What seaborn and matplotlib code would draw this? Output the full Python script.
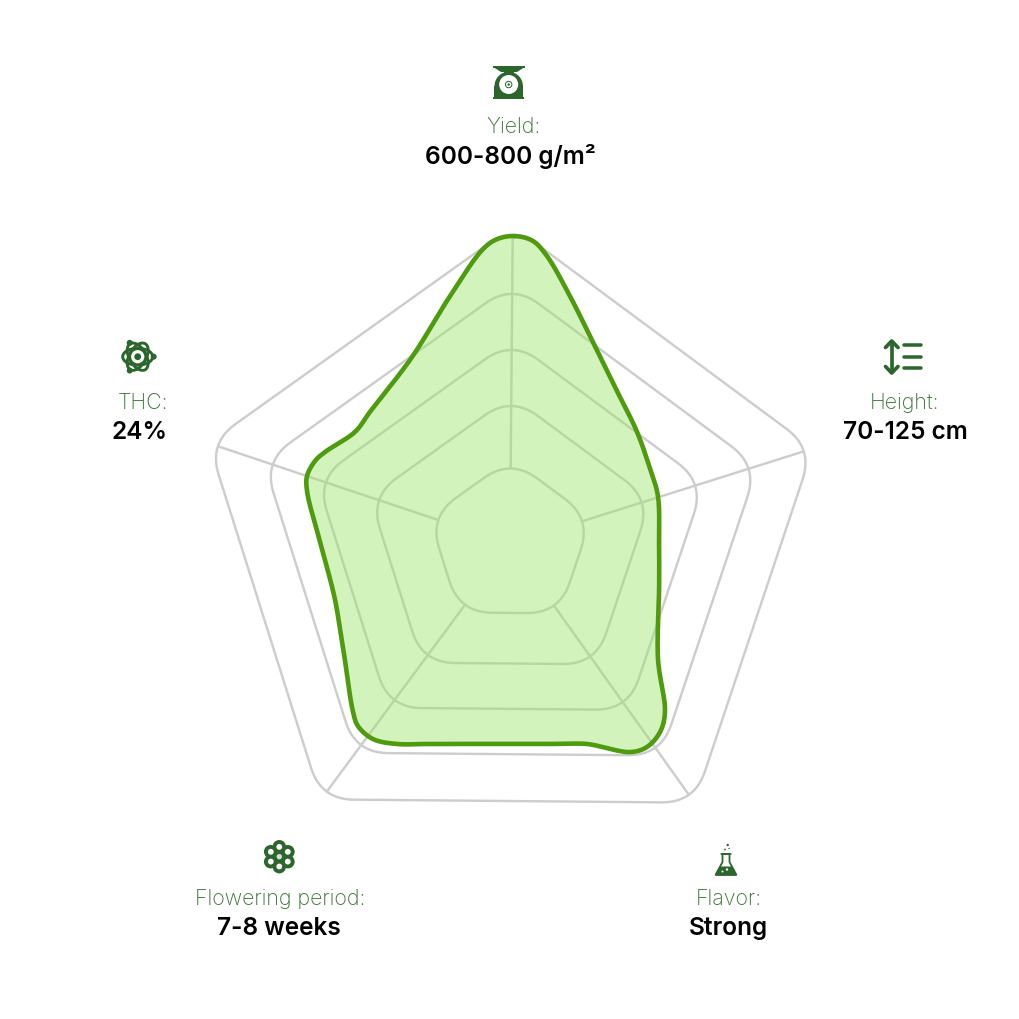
import numpy as np
import pandas as pd
import matplotlib
matplotlib.use("Agg")
import matplotlib.pyplot as plt
from matplotlib.patches import Circle, Ellipse, Polygon, Rectangle, Wedge
import seaborn as sns

# ---- data ----
categories = ["Yield:", "Height:", "Flavor:", "Flowering period:", "THC:"]
value_labels = ["600-800 g/m²", "70-125 cm", "Strong", "7-8 weeks", "24%"]
grid_levels = [0.245, 0.448, 0.63, 0.812, 1.0]
# Outline of the series (clockwise angle from the top, degrees / radial value)
outline_deg = [0.9, 4.3, 7.3, 13.6, 22.3, 33.8, 48.6, 61.8, 72.0, 90.0, 105.7, 127.9, 137.3, 141.4, 146.0,
               150.0, 158.9, 166.0, 180.0, 194.0, 201.8, 209.5, 215.1, 219.9, 223.1, 236.2, 252.6, 269.7, 284.6,
               288.5, 293.1, 296.4, 305.9, 313.3, 332.3, 345.8, 354.8, 357.6]
outline_val = [1.0, 0.987, 0.943, 0.828, 0.709, 0.613, 0.55, 0.516, 0.505, 0.484, 0.503, 0.609, 0.742, 0.781,
               0.795, 0.78, 0.696, 0.669, 0.649, 0.669, 0.699, 0.746, 0.774, 0.77, 0.746, 0.648, 0.596, 0.614, 0.681,
               0.695, 0.688, 0.671, 0.621, 0.625, 0.685, 0.82, 0.962, 0.991]

# ---- style ----
GRID = "#cdcdcd"
LINE = "#4f9a0e"
FILL = (153 / 255, 228 / 255, 103 / 255)
ICON = "#2c662d"
LABEL = "#3f7339"
FONT = ["Inter", "DejaVu Sans"]
PX = 0.72
ROT = 0.5

sns.set_theme(style="white")
plt.rcParams["font.family"] = FONT

fig = plt.figure(figsize=(10.2, 10.2), dpi=100, facecolor="white")
ax = fig.add_axes([202 / 1020, (1020 - 545 - 308) / 1020, 616 / 1020, 616 / 1020], projection="polar")
ax.set_theta_zero_location("N")
ax.set_theta_direction(-1)
ax.set_ylim(0, 1)
ax.axis("off")


def to_polar(xy):
    return np.arctan2(xy[:, 0], xy[:, 1]), np.hypot(xy[:, 0], xy[:, 1])


def to_xy(theta, r):
    return np.column_stack([r * np.sin(theta), r * np.cos(theta)])


def rounded_ring(level, tang=33 / 308, n=18):
    """Closed pentagon ring crossing each spoke at level, corners rounded."""
    cut = 0.294 * tang
    th = np.deg2rad(ROT + 72 * np.arange(5))
    v = to_xy(th, np.full(5, level + cut))
    out = []
    for i in range(5):
        p, c, q = v[i - 1], v[i], v[(i + 1) % 5]
        a = c + (p - c) / np.linalg.norm(p - c) * tang
        b = c + (q - c) / np.linalg.norm(q - c) * tang
        t = np.linspace(0, 1, n)[:, None]
        out.append((1 - t) ** 2 * a + 2 * t * (1 - t) * c + t ** 2 * b)
    out = np.vstack(out + [out[0][:1]])
    return to_polar(out)


def catmull(xy, n=14, alpha=0.5):
    """Closed centripetal Catmull-Rom curve through the outline."""
    m = len(xy)
    res = []
    for i in range(m):
        p0, p1, p2, p3 = xy[i - 1], xy[i], xy[(i + 1) % m], xy[(i + 2) % m]
        t0 = 0.0
        t1 = t0 + np.linalg.norm(p1 - p0) ** alpha
        t2 = t1 + np.linalg.norm(p2 - p1) ** alpha
        t3 = t2 + np.linalg.norm(p3 - p2) ** alpha
        for t in np.linspace(t1, t2, n, endpoint=False):
            a1 = (t1 - t) / (t1 - t0) * p0 + (t - t0) / (t1 - t0) * p1
            a2 = (t2 - t) / (t2 - t1) * p1 + (t - t1) / (t2 - t1) * p2
            a3 = (t3 - t) / (t3 - t2) * p2 + (t - t2) / (t3 - t2) * p3
            b1 = (t2 - t) / (t2 - t0) * a1 + (t - t0) / (t2 - t0) * a2
            b2 = (t3 - t) / (t3 - t1) * a2 + (t - t1) / (t3 - t1) * a3
            res.append((t2 - t) / (t2 - t1) * b1 + (t - t1) / (t2 - t1) * b2)
    res.append(res[0])
    return np.array(res)


# grid rings
for lv in grid_levels:
    th, r = rounded_ring(lv)
    sns.lineplot(x=th, y=r, sort=False, estimator=None, color=GRID, linewidth=2.4 * PX, ax=ax, zorder=1)
# spokes (from first ring to last ring)
for i in range(5):
    a = np.deg2rad(ROT + 72 * i)
    sns.lineplot(x=[a, a], y=[grid_levels[0], grid_levels[-1]], sort=False, estimator=None,
                 color=GRID, linewidth=2.4 * PX, ax=ax, zorder=1)

# series
pts = to_xy(np.deg2rad(outline_deg), np.array(outline_val))
sm = catmull(pts)
th, r = to_polar(sm)
th = np.unwrap(th)
df = pd.DataFrame({"theta": th, "value": r})
ax.fill(df["theta"], df["value"], color=FILL, alpha=0.44, linewidth=0, zorder=2)
sns.lineplot(data=df, x="theta", y="value", sort=False, estimator=None, color=LINE, linewidth=4.6 * PX,
             ax=ax, zorder=3)
ax.set_rmax(1.0)
for ln in ax.lines:
    ln.set_clip_on(False)
ax.axis("off")
if ax.get_legend():
    ax.get_legend().remove()

# overlay in pixel coordinates: labels and icons
ov = fig.add_axes([0, 0, 1, 1], facecolor="none")
ov.set_xlim(0, 1020)
ov.set_ylim(1019, -1)
ov.axis("off")

label_pos = [(513, 126), (905, 402), (729, 898), (280, 898), (143, 402)]
value_pos = [(510, 155.5), (905, 431.5), (728, 927.5), (279, 927.5), (140, 431.5)]
for name, (x, y) in zip(categories, label_pos):
    ov.text(x, y, name, ha="center", va="center", fontsize=15.4, color=LABEL, fontweight="light")
for name, (x, y) in zip(value_labels, value_pos):
    ov.text(x, y, name, ha="center", va="center", fontsize=17.6, color="black", fontweight="semibold")


def add(p):
    ov.add_patch(p)


# scale icon
add(Rectangle((493, 66), 32, 1.6, color=ICON, lw=0))
add(Polygon([[494, 67.5], [524, 67.5], [517, 72], [501, 72]], color=ICON, lw=0))
add(Rectangle((504, 71), 10, 4, color=ICON, lw=0))
add(Wedge((508.7, 86), 14.2, 180, 360, color=ICON, lw=0))  # flipped axis: upper half
add(Rectangle((494.5, 86), 28.4, 11, color=ICON, lw=0))
add(Rectangle((493.5, 96.5), 30.5, 2.7, color=ICON, lw=0))
add(Circle((508.7, 84.5), 9.5, color="white", lw=0))
add(Circle((508.7, 84.5), 3.2, fill=False, ec=ICON, lw=0.7))
add(Circle((508.7, 84.5), 1.2, color=ICON, lw=0))

# height icon
ov.plot([891.7, 891.7], [342, 372], color=ICON, lw=3.7 * PX, solid_capstyle="round")
ov.plot([885.5, 891.7, 898], [347.5, 341, 347.5], color=ICON, lw=3.7 * PX, solid_capstyle="round")
ov.plot([885.5, 891.7, 898], [366.5, 373, 366.5], color=ICON, lw=3.7 * PX, solid_capstyle="round")
for yy in (345, 356.7, 368.3):
    ov.plot([904, 921.5], [yy, yy], color=ICON, lw=3.5 * PX, solid_capstyle="round")

# atom icon
cx, cy = 137.7, 356.7
for ang in (0, 60, 120):
    add(Ellipse((cx, cy), 30, 17, angle=ang, fill=False, ec=ICON, lw=2.1))
for ang in (0, 120, 240):
    add(Circle((cx + 16 * np.cos(np.deg2rad(ang)), cy + 16 * np.sin(np.deg2rad(ang))), 3, color=ICON, lw=0))
add(Circle((cx, cy), 7.6, color="white", ec=ICON, lw=1.4))
add(Circle((cx, cy), 3.4, color=ICON, lw=0))

# flower icon
cx, cy = 279.3, 856.7
for k in range(6):
    a = np.deg2rad(90 + 60 * k)
    add(Circle((cx + 10 * np.cos(a), cy + 10 * np.sin(a)), 6.7, color=ICON, lw=0))
add(Circle((cx, cy), 6, color=ICON, lw=0))
for k in range(6):
    a = np.deg2rad(90 + 60 * k)
    add(Circle((cx + 9.8 * np.cos(a), cy + 9.8 * np.sin(a)), 2.9, color="white", lw=0))
add(Circle((cx, cy), 2.7, color="#cfe3cd", lw=0))

# flask icon
add(Polygon([[722.5, 854], [722.5, 862], [715.5, 875], [736.5, 875], [729.5, 862], [729.5, 854]],
            closed=True, fill=False, ec=ICON, lw=1.3))
ov.plot([721, 731], [853.5, 853.5], color=ICON, lw=1.1)
add(Polygon([[720, 866.5], [732, 866.5], [736.5, 875], [715.5, 875]], color=ICON, lw=0))
add(Circle((727, 869.5), 1.2, color="white", lw=0))
add(Circle((722.5, 871.5), 1.0, color="white", lw=0))
for px_, py_, rr in ((727.7, 845, 1.2), (725, 849.5, 0.9), (729, 848.5, 0.7)):
    add(Circle((px_, py_), rr, color=ICON, lw=0))

fig.savefig("out.png", dpi=100, facecolor="white")
